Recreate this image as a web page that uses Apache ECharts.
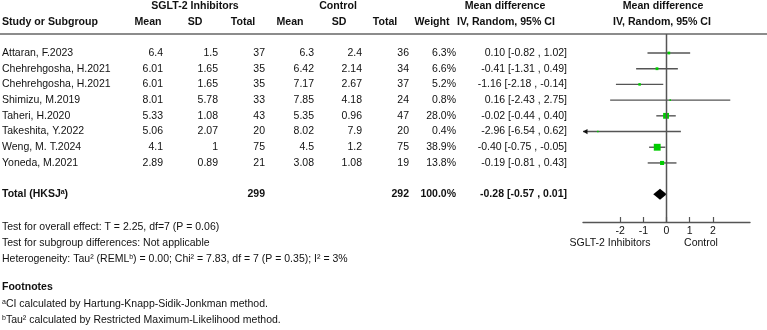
<!DOCTYPE html>
<html>
<head>
<meta charset="utf-8">
<script src="https://cdn.jsdelivr.net/npm/echarts@6/dist/echarts.min.js"></script>
<style>
  html, body { margin: 0; padding: 0; background: #fff; }
  #chart { width: 767px; height: 330px; }
</style>
</head>
<body>
<div id="chart"></div>
<script>
// ---- data ----
const studies = [
  "Attaran, F.2023", "Chehrehgosha, H.2021", "Chehrehgosha, H.2021", "Shimizu, M.2019",
  "Taheri, H.2020", "Takeshita, Y.2022", "Weng, M. T.2024", "Yoneda, M.2021",
];
const sgltMean = [6.4, 6.01, 6.01, 8.01, 5.33, 5.06, 4.1, 2.89];
const sgltSD = [1.5, 1.65, 1.65, 5.78, 1.08, 2.07, 1, 0.89];
const sgltN = [37, 35, 35, 33, 43, 20, 75, 21];
const ctrlMean = [6.3, 6.42, 7.17, 7.85, 5.35, 8.02, 4.5, 3.08];
const ctrlSD = [2.4, 2.14, 2.67, 4.18, 0.96, 7.9, 1.2, 1.08];
const ctrlN = [36, 34, 37, 24, 47, 20, 75, 19];
const weights = [6.3, 6.6, 5.2, 0.8, 28.0, 0.4, 38.9, 13.8];
const meanDiff = [0.10, -0.41, -1.16, 0.16, -0.02, -2.96, -0.40, -0.19];
const ciLow = [-0.82, -1.31, -2.18, -2.43, -0.44, -6.54, -0.75, -0.81];
const ciHigh = [1.02, 0.49, -0.14, 2.75, 0.40, 0.62, -0.05, 0.43];

const totalSglt = 299;
const totalCtrl = 292;
const totalWeight = 100.0;
const totalMD = -0.28;
const totalLow = -0.57;
const totalHigh = 0.01;

const tickValues = [-2, -1, 0, 1, 2];

// ---- layout / style ----
const FONT = '"Liberation Sans", Arial, sans-serif';
const FS = 10.5;       // body text
const FS_HEAD = 10.6;  // bold headers
const TXT = "#111";
const X_MIN = -3.6, X_MAX = 3.6;
const Y_MIN = -1.21, Y_MAX = 10.76;
const TOTAL_ROW = 9;

const fmtCI = (m, l, h) => `${m.toFixed(2)} [${l.toFixed(2)} , ${h.toFixed(2)}]`;

// table column anchors in px (table grid x axis is 0..767)
const columns = [
  { x: 2, align: "left", get: (i) => studies[i] },
  { x: 163, align: "right", get: (i) => String(sgltMean[i]) },
  { x: 218, align: "right", get: (i) => String(sgltSD[i]) },
  { x: 265, align: "right", get: (i) => String(sgltN[i]) },
  { x: 314, align: "right", get: (i) => String(ctrlMean[i]) },
  { x: 362, align: "right", get: (i) => String(ctrlSD[i]) },
  { x: 409, align: "right", get: (i) => String(ctrlN[i]) },
  { x: 456, align: "right", get: (i) => weights[i].toFixed(1) + "%" },
  { x: 567, align: "right", get: (i) => fmtCI(meanDiff[i], ciLow[i], ciHigh[i]) },
];

const rowData = studies.map((_, i) => [columns[0].x, i]);

function renderTableRow(params, api) {
  const i = api.value(1);
  const y = api.coord([0, i])[1];
  return {
    type: "group",
    children: columns.map((c) => ({
      type: "text",
      style: {
        x: api.coord([c.x, i])[0],
        y: y,
        text: c.get(i),
        textAlign: c.align,
        textVerticalAlign: "middle",
        fontFamily: FONT,
        fontSize: FS,
        fill: TXT,
      },
    })),
  };
}

function renderTotalRow(params, api) {
  const y = api.coord([0, TOTAL_ROW])[1];
  const bold = { fontFamily: FONT, fontSize: FS, fontWeight: "bold", fill: TXT };
  const cell = (x, text, align) => ({
    type: "text",
    style: Object.assign({ x: api.coord([x, TOTAL_ROW])[0], y, text, textAlign: align, textVerticalAlign: "middle" }, bold),
  });
  return {
    type: "group",
    children: [
      {
        type: "text",
        style: {
          x: api.coord([2, TOTAL_ROW])[0], y,
          text: "{b|Total (HKSJ}{s|a}{b|)}",
          textAlign: "left", textVerticalAlign: "middle",
          rich: {
            b: bold,
            s: { fontFamily: FONT, fontSize: 7, fontWeight: "bold", fill: TXT, verticalAlign: "top" },
          },
        },
      },
      cell(265, String(totalSglt), "right"),
      cell(409, String(totalCtrl), "right"),
      cell(456, totalWeight.toFixed(1) + "%", "right"),
      cell(567, fmtCI(totalMD, totalLow, totalHigh), "right"),
    ],
  };
}

// forest marks
const forestData = studies.map((_, i) => [meanDiff[i], ciLow[i], ciHigh[i], i, weights[i]]);

function renderStudy(params, api) {
  const md = api.value(0), lo = api.value(1), hi = api.value(2), i = api.value(3), w = api.value(4);
  const pLo = api.coord([Math.max(lo, X_MIN), i]);
  const pHi = api.coord([Math.min(hi, X_MAX), i]);
  const pMd = api.coord([md, i]);
  const side = Math.max(1.6, 1.1 * Math.sqrt(w));
  const children = [
    {
      type: "line",
      shape: { x1: pLo[0], y1: pLo[1], x2: pHi[0], y2: pHi[1] },
      style: { stroke: "#555", lineWidth: 1.4 },
    },
    {
      type: "rect",
      shape: { x: pMd[0] - side / 2, y: pMd[1] - side / 2, width: side, height: side },
      style: { fill: "#00cc00" },
    },
  ];
  if (lo < X_MIN) {
    children.push({
      type: "polygon",
      shape: { points: [[pLo[0], pLo[1]], [pLo[0] + 4.5, pLo[1] - 2.6], [pLo[0] + 4.5, pLo[1] + 2.6]] },
      style: { fill: "#111" },
    });
  }
  return { type: "group", children };
}

function renderDiamond(params, api) {
  const l = api.coord([api.value(1), api.value(3)]);
  const m = api.coord([api.value(0), api.value(3)]);
  const h = api.coord([api.value(2), api.value(3)]);
  const half = 5.5;
  return {
    type: "polygon",
    shape: { points: [[l[0], l[1]], [m[0], m[1] - half], [h[0], h[1]], [m[0], m[1] + half]] },
    style: { fill: "#000" },
  };
}

// static text helpers
const txt = (left, top, text, opts = {}) => ({
  type: "text",
  left, top,
  style: Object.assign({ text, fontFamily: FONT, fontSize: FS, fill: TXT }, opts),
});
const head = (cx, cy, text) => ({
  type: "text",
  x: cx, y: cy,
  style: { text, fontFamily: FONT, fontSize: FS_HEAD, fontWeight: "bold", fill: TXT, textAlign: "center", textVerticalAlign: "middle" },
});
const supRich = {
  n: { fontFamily: FONT, fontSize: FS, fill: TXT },
  s: { fontFamily: FONT, fontSize: 7, fill: TXT, verticalAlign: "top" },
};

const chart = echarts.init(document.getElementById("chart"), null, { renderer: "canvas" });

const option = {
  backgroundColor: "#fff",
  animation: false,
  grid: [
    { left: 0, width: 767, top: 34, height: 188 },
    { left: 583, width: 167, top: 34, height: 188 },
  ],
  xAxis: [
    { gridIndex: 0, type: "value", min: 0, max: 767, show: false },
    {
      gridIndex: 1,
      type: "value",
      min: X_MIN,
      max: X_MAX,
      position: "bottom",
      axisLine: { show: true, onZero: false, lineStyle: { color: "#555", width: 1.4 } },
      axisTick: { show: true, inside: true, length: 5, customValues: tickValues, lineStyle: { color: "#555", width: 1.2 } },
      axisLabel: { customValues: tickValues, fontFamily: FONT, fontSize: FS, color: TXT, margin: 4 },
      splitLine: { show: false },
    },
  ],
  yAxis: [
    { gridIndex: 0, type: "value", min: Y_MIN, max: Y_MAX, inverse: true, show: false },
    { gridIndex: 1, type: "value", min: Y_MIN, max: Y_MAX, inverse: true, show: false },
  ],
  graphic: [
    // header rule
    { type: "line", shape: { x1: 0, y1: 34, x2: 767, y2: 34 }, style: { stroke: "#8c8c8c", lineWidth: 2.2 } },
    head(195, 6, "SGLT-2 Inhibitors"),
    head(338, 6, "Control"),
    head(505, 6, "Mean difference"),
    head(663, 6, "Mean difference"),
    { type: "text", x: 2, y: 22, style: { text: "Study or Subgroup", fontFamily: FONT, fontSize: FS_HEAD, fontWeight: "bold", fill: TXT, textVerticalAlign: "middle" } },
    head(148, 22, "Mean"),
    head(195, 22, "SD"),
    head(243, 22, "Total"),
    head(290, 22, "Mean"),
    head(339, 22, "SD"),
    head(385, 22, "Total"),
    head(432, 22, "Weight"),
    head(506, 22, "IV, Random, 95% CI"),
    head(662, 22, "IV, Random, 95% CI"),
    // axis side labels
    { type: "text", x: 610, y: 243, style: { text: "SGLT-2 Inhibitors", fontFamily: FONT, fontSize: FS, fill: TXT, textAlign: "center", textVerticalAlign: "middle" } },
    { type: "text", x: 701, y: 243, style: { text: "Control", fontFamily: FONT, fontSize: FS, fill: TXT, textAlign: "center", textVerticalAlign: "middle" } },
    // tests
    txt(2, 222, "Test for overall effect: T = 2.25, df=7 (P = 0.06)"),
    txt(2, 238, "Test for subgroup differences: Not applicable"),
    txt(2, 254, "", { text: "{n|Heterogeneity: Tau² (REML}{s|b}{n|) = 0.00; Chi² = 7.83, df = 7 (P = 0.35); I² = 3%}", rich: supRich }),
    // footnotes
    txt(2, 282, "Footnotes", { fontWeight: "bold" }),
    txt(2, 299, "", { text: "{s|a}{n|CI calculated by Hartung-Knapp-Sidik-Jonkman method.}", rich: supRich }),
    txt(2, 315, "", { text: "{s|b}{n|Tau² calculated by Restricted Maximum-Likelihood method.}", rich: supRich }),
  ],
  series: [
    {
      name: "table",
      type: "custom",
      xAxisIndex: 0,
      yAxisIndex: 0,
      clip: false,
      data: rowData,
      renderItem: renderTableRow,
      silent: true,
    },
    {
      name: "total",
      type: "custom",
      xAxisIndex: 0,
      yAxisIndex: 0,
      clip: false,
      data: [[2, TOTAL_ROW]],
      renderItem: renderTotalRow,
      silent: true,
    },
    {
      name: "zero",
      type: "line",
      xAxisIndex: 1,
      yAxisIndex: 1,
      data: [[0, Y_MIN], [0, Y_MAX]],
      symbol: "none",
      lineStyle: { color: "#555", width: 1.5 },
      silent: true,
    },
    {
      name: "studies",
      type: "custom",
      xAxisIndex: 1,
      yAxisIndex: 1,
      clip: false,
      data: forestData,
      encode: { x: [0, 1, 2], y: 3 },
      renderItem: renderStudy,
    },
    {
      name: "overall",
      type: "custom",
      xAxisIndex: 1,
      yAxisIndex: 1,
      clip: false,
      data: [[totalMD, totalLow, totalHigh, TOTAL_ROW]],
      encode: { x: [0, 1, 2], y: 3 },
      renderItem: renderDiamond,
    },
  ],
};

chart.setOption(option);
</script>
</body>
</html>
